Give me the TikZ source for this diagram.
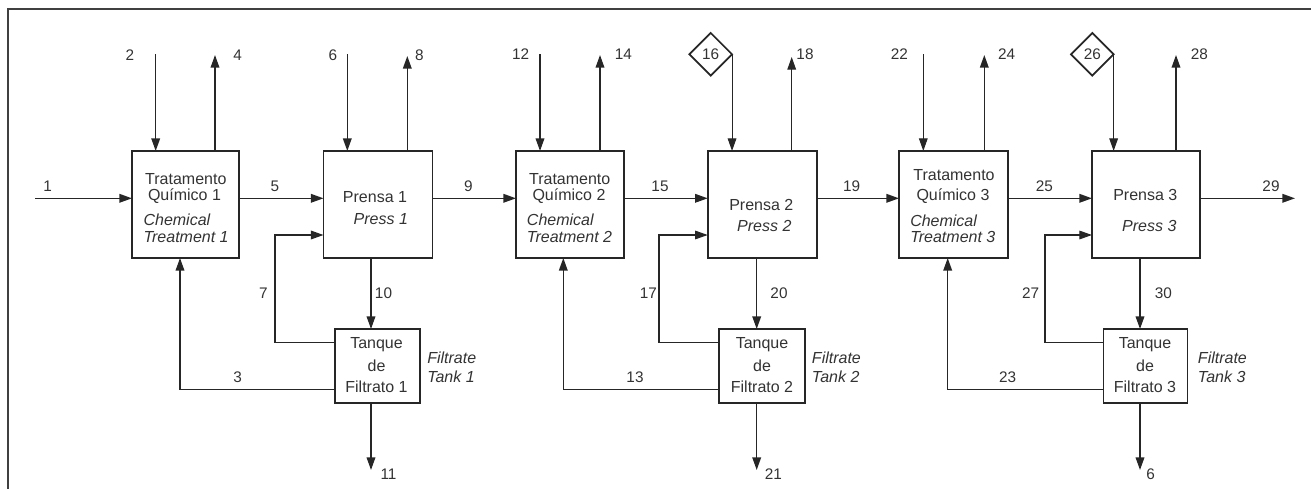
\documentclass[tikz,border=0pt]{standalone}
\usepackage{fontspec}
\setmainfont{Liberation Sans}
\usetikzlibrary{arrows.meta,shapes.geometric}
\begin{document}
\begin{tikzpicture}[x=0.75pt,y=-0.75pt,
  box/.style={draw=black!85,line width=1.3pt,inner sep=0pt,outer sep=0pt,minimum height=80.25pt},
  tank/.style={draw=black!85,line width=1.3pt,inner sep=0pt,outer sep=0pt,minimum height=55.5pt},
  flow/.style={draw=black!85,line width=1.1pt,-{Triangle[length=9.5pt,width=6.5pt]}},
  thinflow/.style={flow,line width=0.8pt},
  lbl/.style={text=black!80,font=\fontsize{11.5}{13}\selectfont,inner sep=0pt},
  txt/.style={text=black!80,font=\fontsize{12}{14}\selectfont,inner sep=0pt},
  itx/.style={text=black!80,font=\fontsize{12}{14}\selectfont\itshape,inner sep=0pt},
  dia/.style={draw=black!85,line width=1.3pt,diamond,aspect=1,minimum width=32pt,minimum height=32pt,inner sep=0pt,outer sep=0pt,text=black!80,font=\fontsize{11.5}{13}\selectfont},
  frame/.style={draw=black!75,line width=1.6pt}
]
\useasboundingbox (0,0) rectangle (1311,489);
\coordinate (fa) at (8,489);
\coordinate (fb) at (8,9);
\coordinate (fc) at (1311,9);
\draw[frame] (fa) -- (fb) -- (fc);

% ---------- boxes ----------
\node[box,minimum width=80.25pt] (ct1) at (185.5,204.5) {};
\node[box,minimum width=81.75pt] (p1) at (378,204.5) {};
\node[tank,minimum width=63.75pt] (t1) at (377.5,366) {};
\node[box,minimum width=81pt] (ct2) at (570,204.5) {};
\node[box,minimum width=81.75pt] (p2) at (762.2,204.5) {};
\node[tank,minimum width=64.5pt] (t2) at (762.2,366) {};
\node[box,minimum width=81.75pt] (ct3) at (953.5,204.5) {};
\node[box,minimum width=81pt] (p3) at (1146,204.5) {};
\node[tank,minimum width=63pt] (t3) at (1145.5,366) {};

\node[dia] (d16) at (710.7,54.3) {16};
\node[dia] (d26) at (1092.3,54.3) {26};

% ---------- texts in boxes ----------
\node[txt] (ct1a) at (185.8,179) {Tratamento};
\node[txt] (ct1b) at (184.5,196.5) {Químico 1};
\node[itx,anchor=west] (ct1c) at (143.3,220) {Chemical};
\node[itx,anchor=west] (ct1d) at (143.3,237) {Treatment 1};
\node[txt] (p1a) at (375,197.5) {Prensa 1};
\node[itx] (p1b) at (380.8,219) {Press 1};
\node[txt] (t1a) at (376.5,345) {Tanque};
\node[txt] (t1b) at (376.5,366) {de};
\node[txt] (t1c) at (376.5,387) {Filtrato 1};
\node[itx,anchor=west] (f1a) at (427,357.3) {Filtrate};
\node[itx,anchor=west] (f1b) at (427,376.7) {Tank 1};

\node[txt] (ct2a) at (569.7,179) {Tratamento};
\node[txt] (ct2b) at (569,196.5) {Químico 2};
\node[itx,anchor=west] (ct2c) at (526.7,220) {Chemical};
\node[itx,anchor=west] (ct2d) at (526.7,237) {Treatment 2};
\node[txt] (p2a) at (761.3,205) {Prensa 2};
\node[itx] (p2b) at (764.3,226) {Press 2};
\node[txt] (t2a) at (762,345) {Tanque};
\node[txt] (t2b) at (762,366) {de};
\node[txt] (t2c) at (762,387) {Filtrato 2};
\node[itx,anchor=west] (f2a) at (811.7,357.3) {Filtrate};
\node[itx,anchor=west] (f2b) at (811.7,376.7) {Tank 2};

\node[txt] (ct3a) at (954,175) {Tratamento};
\node[txt] (ct3b) at (953,196) {Químico 3};
\node[itx,anchor=west] (ct3c) at (910,220.5) {Chemical};
\node[itx,anchor=west] (ct3d) at (910,237) {Treatment 3};
\node[txt] (p3a) at (1145.3,195) {Prensa 3};
\node[itx] (p3b) at (1149.3,226) {Press 3};
\node[txt] (t3a) at (1145,345) {Tanque};
\node[txt] (t3b) at (1145,366) {de};
\node[txt] (t3c) at (1145,387) {Filtrato 3};
\node[itx,anchor=west] (f3a) at (1197.7,357.3) {Filtrate};
\node[itx,anchor=west] (f3b) at (1197.7,376.7) {Tank 3};

% ---------- stage 1 streams ----------
\coordinate (s1) at (35,198.3);
\draw[flow] (s1) -- (s1 -| ct1.west);
\coordinate (s2) at (155.7,54);
\draw[flow] (s2) -- (s2 |- ct1.north);
\coordinate (s4) at (215,55);
\draw[flow] (s4 |- ct1.north) -- (s4);
\draw[flow] (s1 -| ct1.east) -- (s1 -| p1.west);
\coordinate (s6) at (347.3,54);
\draw[flow] (s6) -- (s6 |- p1.north);
\coordinate (s8) at (407.3,56);
\draw[flow] (s8 |- p1.north) -- (s8);
\coordinate (s10) at (371,300);
\draw[flow] (s10 |- p1.south) -- (s10 |- t1.north);
\coordinate (s11) at (371,470);
\draw[flow] (s11 |- t1.south) -- (s11);
\coordinate (c7a) at (275,342.3);
\coordinate (c7b) at (275,235);
\draw[flow] (c7a -| t1.west) -- (c7a) -- (c7b) -- (c7b -| p1.west);
\coordinate (c3) at (180,389.3);
\draw[flow] (c3 -| t1.west) -- (c3) -- (c3 |- ct1.south);
\draw[flow] (s1 -| p1.east) -- (s1 -| ct2.west);

% ---------- stage 2 streams ----------
\coordinate (s12) at (540,54);
\draw[flow] (s12) -- (s12 |- ct2.north);
\coordinate (s14) at (600,55);
\draw[flow] (s14 |- ct2.north) -- (s14);
\draw[flow] (s1 -| ct2.east) -- (s1 -| p2.west);
\draw[thinflow] (d16.east) -- (d16.east |- p2.north);
\coordinate (s18) at (791.7,57);
\draw[thinflow] (s18 |- p2.north) -- (s18);
\coordinate (s20) at (756.7,300);
\draw[flow] (s20 |- p2.south) -- (s20 |- t2.north);
\coordinate (s21) at (756.7,470);
\draw[flow] (s21 |- t2.south) -- (s21);
\coordinate (c17a) at (659,342.3);
\coordinate (c17b) at (659,235);
\draw[thinflow] (c17a -| t2.west) -- (c17a) -- (c17b) -- (c17b -| p2.west);
\coordinate (c13) at (563.3,389.3);
\draw[flow] (c13 -| t2.west) -- (c13) -- (c13 |- ct2.south);
\draw[flow] (s1 -| p2.east) -- (s1 -| ct3.west);

% ---------- stage 3 streams ----------
\coordinate (s22) at (923.3,54);
\draw[thinflow] (s22) -- (s22 |- ct3.north);
\coordinate (s24) at (984.3,55);
\draw[flow] (s24 |- ct3.north) -- (s24);
\draw[flow] (s1 -| ct3.east) -- (s1 -| p3.west);
\draw[thinflow] (d26.east) -- (d26.east |- p3.north);
\coordinate (s28) at (1176,55);
\draw[flow] (s28 |- p3.north) -- (s28);
\coordinate (s30) at (1140,300);
\draw[flow] (s30 |- p3.south) -- (s30 |- t3.north);
\coordinate (s6b) at (1140,470);
\draw[flow] (s6b |- t3.south) -- (s6b);
\coordinate (c27a) at (1045,342.3);
\coordinate (c27b) at (1045,235);
\draw[thinflow] (c27a -| t3.west) -- (c27a) -- (c27b) -- (c27b -| p3.west);
\coordinate (c23) at (947.7,389.3);
\draw[flow] (c23 -| t3.west) -- (c23) -- (c23 |- ct3.south);
\coordinate (s29) at (1295,198.3);
\draw[flow] (s1 -| p3.east) -- (s29);

% ---------- stream labels ----------
\node[lbl] (l1) at (47.7,186.7) {1};
\node[lbl] (l2) at (130,55) {2};
\node[lbl] (l4) at (237.7,55) {4};
\node[lbl] (l5) at (275,186.7) {5};
\node[lbl] (l6) at (333,55) {6};
\node[lbl] (l8) at (419.5,55) {8};
\node[lbl] (l7) at (263.3,293) {7};
\node[lbl] (l10) at (383.5,293) {10};
\node[lbl] (l3) at (237.7,377.7) {3};
\node[lbl] (l11) at (388.5,474) {11};
\node[lbl] (l9) at (468.3,186.7) {9};
\node[lbl] (l12) at (520.7,54) {12};
\node[lbl] (l14) at (623.3,54) {14};
\node[lbl] (l18) at (805,54) {18};
\node[lbl] (l15) at (660,186.7) {15};
\node[lbl] (l19) at (851.7,186.7) {19};
\node[lbl] (l17) at (648.3,293) {17};
\node[lbl] (l20) at (779,293) {20};
\node[lbl] (l13) at (635,377.7) {13};
\node[lbl] (l21) at (773.3,474) {21};
\node[lbl] (l22) at (899.3,54) {22};
\node[lbl] (l24) at (1006.7,54) {24};
\node[lbl] (l28) at (1199.3,54) {28};
\node[lbl] (l25) at (1044.3,186.7) {25};
\node[lbl] (l29) at (1271,186.7) {29};
\node[lbl] (l27) at (1030.7,293) {27};
\node[lbl] (l30) at (1163.3,293) {30};
\node[lbl] (l23) at (1007.7,377.7) {23};
\node[lbl] (l6b) at (1150.7,474) {6};
\end{tikzpicture}
\end{document}
